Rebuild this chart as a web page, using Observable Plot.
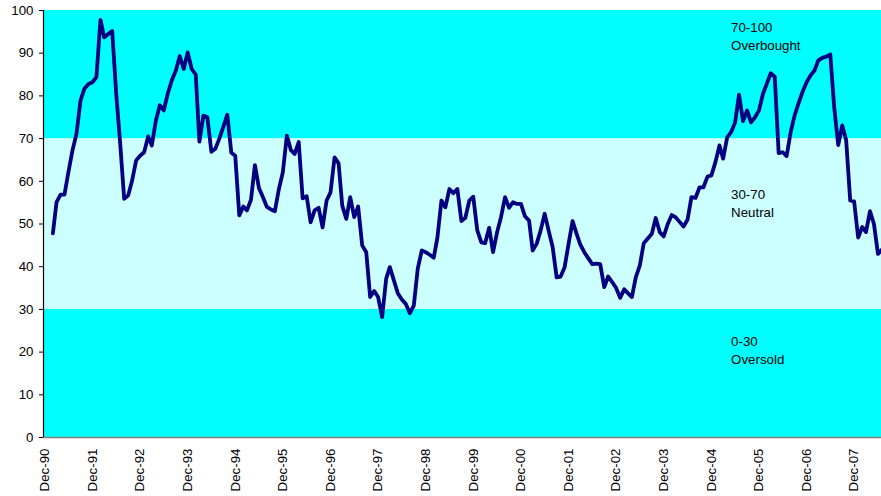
<!DOCTYPE html>
<html>
<head>
<meta charset="utf-8">
<script src="https://cdn.jsdelivr.net/npm/d3@7"></script>
<script src="https://cdn.jsdelivr.net/npm/@observablehq/plot@0.6"></script>
<style>
  html, body { margin: 0; padding: 0; background: #ffffff; }
  #chart svg { display: block; }
</style>
</head>
<body>
<div id="chart"></div>
<script>
// ---- Data ----
// Monthly index values, first value = Feb 1991, one value per month
const firstMonth = "1991-02-01";
const rsiValues = [
  47.8, 55.1, 56.9, 56.9, 62.3, 67.2, 71.1, 78.9, 81.7, 82.8,
  83.2, 84.4, 97.8, 93.7, 94.5, 95.2, 80.5, 69.0, 55.9, 56.7,
  60.2, 64.9, 66.0, 66.8, 70.5, 68.4, 74.2, 77.8, 76.6, 80.5,
  83.6, 85.9, 89.3, 86.3, 90.2, 86.3, 85.0, 69.3, 75.4, 75.0,
  66.9, 67.6, 70.0, 72.8, 75.6, 66.7, 66.0, 52.0, 54.1, 53.2,
  55.7, 63.8, 58.4, 56.3, 54.0, 53.4, 53.0, 58.2, 62.1, 70.7,
  67.3, 66.4, 69.2, 56.0, 56.5, 50.4, 53.2, 53.8, 49.2, 55.5,
  57.4, 65.6, 64.2, 54.3, 51.2, 56.3, 51.6, 54.1, 45.0, 43.4,
  32.9, 34.3, 32.9, 28.2, 37.2, 39.9, 36.8, 33.8, 32.3, 31.3,
  29.1, 30.9, 39.5, 43.8, 43.4, 42.8, 42.1, 46.8, 55.5, 53.9,
  58.2, 57.2, 58.2, 50.7, 51.4, 55.5, 56.4, 48.5, 45.7, 45.5,
  49.1, 43.4, 48.1, 51.6, 56.3, 53.8, 55.1, 54.7, 54.7, 51.8,
  50.8, 43.8, 45.4, 48.5, 52.4, 48.5, 44.6, 37.5, 37.7, 39.9,
  45.3, 50.7, 47.7, 45.2, 43.4, 42.0, 40.6, 40.7, 40.6, 35.2,
  37.7, 36.4, 35.0, 32.7, 34.7, 33.8, 32.9, 37.5, 40.3, 45.5,
  46.6, 47.7, 51.4, 48.1, 47.1, 50.0, 52.1, 51.6, 50.5, 49.4,
  51.0, 56.3, 56.1, 58.6, 58.6, 61.1, 61.4, 64.5, 68.4, 65.3,
  70.3, 71.5, 73.8, 80.3, 74.1, 76.6, 73.8, 75.0, 76.6, 80.5,
  83.0, 85.3, 84.5, 66.6, 66.8, 65.9, 71.5, 75.5, 78.3, 81.0,
  83.2, 84.8, 86.0, 88.3, 88.9, 89.2, 89.7, 77.4, 68.5, 73.1,
  69.6, 55.5, 55.3, 46.8, 49.3, 48.1, 53.0, 50.0, 43.0, 44.0
];

// x axis tick labels (December of each year)
const tickYears  = [1990,1991,1992,1993,1994,1995,1996,1997,1998,1999,2000,2001,2002,2003,2004,2005,2006,2007];
const tickLabels = ["Dec-90","Dec-91","Dec-92","Dec-93","Dec-94","Dec-95","Dec-96","Dec-97","Dec-98",
                    "Dec-99","Dec-00","Dec-01","Dec-02","Dec-03","Dec-04","Dec-05","Dec-06","Dec-07"];
const yTicks = [0,10,20,30,40,50,60,70,80,90,100];

// zones
const zoneLow    = [0, 30, 70];
const zoneHigh   = [30, 70, 100];
const zoneColors = ["#00FFFF", "#CCFFFF", "#00FFFF"];
const zoneLabels = ["0-30\nOversold", "30-70\nNeutral", "70-100\nOverbought"];
const zoneLabelY = [24.3, 58.8, 97.9];
const zoneLabelMonth = "2005-05-01";

// ---- Build tables ----
const start = new Date(firstMonth + "T00:00:00Z");
const series = rsiValues.map((v, i) => ({date: d3.utcMonth.offset(start, i), rsi: v}));
const tickDates = tickYears.map(y => new Date(Date.UTC(y, 11, 1)));
const xDomain = [new Date(Date.UTC(1990, 10, 21)), new Date(Date.UTC(2008, 5, 28))];
const zones = zoneLow.map((lo, i) => ({
  lo, hi: zoneHigh[i], color: zoneColors[i], label: zoneLabels[i], ly: zoneLabelY[i]
}));
const labelDate = new Date(zoneLabelMonth + "T00:00:00Z");

const chart = Plot.plot({
  width: 881,
  height: 496,
  marginLeft: 43,
  marginRight: 0,
  marginTop: 10,
  marginBottom: 59,
  x: {type: "utc", domain: xDomain, axis: null},
  y: {domain: [0, 100], axis: null},
  style: {
    fontFamily: "'Liberation Sans', Arial, Helvetica, sans-serif",
    fontSize: "13.3px",
    color: "#000000",
    background: "#ffffff"
  },
  marks: [
    Plot.rect(zones, {
      x1: () => xDomain[0], x2: () => xDomain[1],
      y1: "lo", y2: "hi", fill: "color"
    }),
    Plot.line(series, {
      x: "date", y: "rsi",
      stroke: "#000080", strokeWidth: 3.8,
      strokeLinejoin: "round", clip: true
    }),
    Plot.text(zones, {
      x: () => labelDate, y: "ly", text: "label",
      textAnchor: "start", lineAnchor: "top", lineHeight: 1.33,
      fill: "#000000", fontSize: 13.3
    }),
    Plot.ruleY([0], {stroke: "#808080", strokeWidth: 1.5}),
    Plot.ruleX([xDomain[0]], {stroke: "#000000", strokeWidth: 1.2}),
    Plot.axisY({
      ticks: yTicks, tickSize: 4, tickPadding: 6,
      tickFormat: d => String(d), stroke: "#000000"
    }),
    Plot.axisX({
      ticks: tickDates,
      tickFormat: d => tickLabels[tickYears.indexOf(d.getUTCFullYear())],
      tickRotate: -90, tickSize: 0, tickPadding: 11
    })
  ]
});
document.getElementById("chart").appendChild(chart);
</script>
</body>
</html>
